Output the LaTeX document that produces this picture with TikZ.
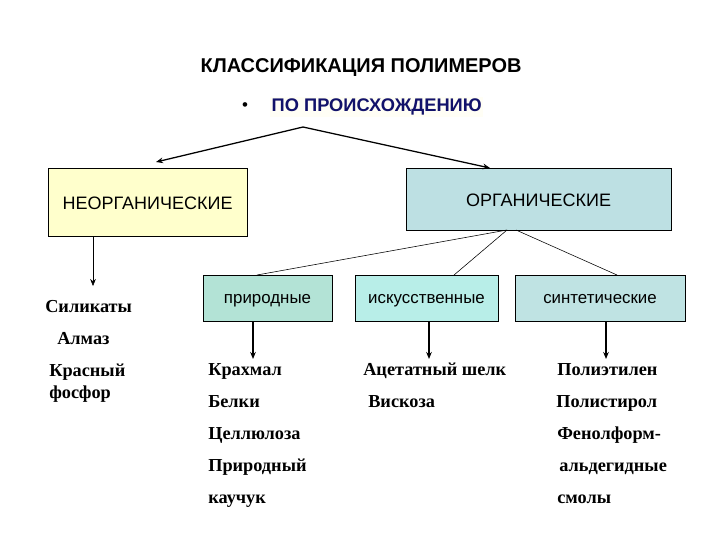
\documentclass[tikz,border=0pt]{standalone}
\usepackage{fontspec}
\setmainfont{Liberation Serif}
\newfontfamily\arialfont{Liberation Sans}
\usetikzlibrary{arrows.meta}
\definecolor{gelb}{HTML}{FFFFCC}
\definecolor{tuerkis}{HTML}{BDE0E3}
\definecolor{mint}{HTML}{B3E3D6}
\definecolor{aqua}{HTML}{B8EEE8}
\definecolor{blaugrau}{HTML}{BFE3E3}
\definecolor{dunkelblau}{HTML}{12126A}
\tikzset{
	kasten/.style={draw, thin, text height=10pt, text depth=2pt, font=\arialfont\fontsize{12}{14}\selectfont},
	grosskasten/.style={kasten, text height=11pt, text depth=0.5pt, font=\arialfont\fontsize{12.8}{15}\selectfont},
	liste/.style={anchor=west, inner sep=0pt, text height=1.6ex, text depth=.3ex,
		font=\bfseries\fontsize{13}{15}\selectfont},
	pfeil/.style={-{Stealth[length=5pt,width=4pt]}, line width=0.9pt},
}
\begin{document}
\begin{tikzpicture}[x=0.025cm,y=-0.025cm]
		\useasboundingbox (0,0) rectangle (720,540);
		% Titel
		\node (titel) at (361,68) {\arialfont\bfseries\fontsize{14.2}{16}\selectfont КЛАССИФИКАЦИЯ ПОЛИМЕРОВ};
		\node (punkt) at (245,107) {\arialfont\fontsize{12}{14}\selectfont •};
		\node[fill=yellow!4, inner sep=1pt, anchor=west, text=dunkelblau] (herkunft) at (270,107)
			{\arialfont\bfseries\fontsize{13}{15}\selectfont ПО ПРОИСХОЖДЕНИЮ};
		% Kaesten
		\node[grosskasten, fill=gelb, minimum width=4.975cm, minimum height=1.7cm] (anorg) at (147.5,202) {НЕОРГАНИЧЕСКИЕ};
		\node[grosskasten, fill=tuerkis, minimum width=6.625cm, minimum height=1.55cm] (org) at (538.5,199) {ОРГАНИЧЕСКИЕ};
		\node[kasten, fill=mint, minimum width=3.225cm, minimum height=1.15cm] (natur) at (267.5,298) {природные};
		\node[kasten, fill=aqua, minimum width=3.575cm, minimum height=1.15cm] (kunst) at (426.5,298) {искусственные};
		\node[kasten, fill=blaugrau, minimum width=4.25cm, minimum height=1.15cm] (synth) at (600,298) {синтетические};
		% Verzweigung
		\coordinate (spitze) at (303,127);
		\coordinate (anorgZiel) at (156,162);
		\coordinate (orgZiel) at (490,168);
		\draw[pfeil] (spitze) -- (anorgZiel);
		\draw[pfeil] (spitze) -- (orgZiel);
		\coordinate (orgA) at (507,230);
		\coordinate (orgB) at (516,230);
		\draw[thin] (orgA) -- (257,275);
		\draw[thin] (orgA) -- (454,275);
		\draw[thin] (orgB) -- (617,275);
		% Pfeile nach unten
		\coordinate (anorgEnde) at (93,286);
		\coordinate (naturEnde) at (253,359);
		\coordinate (kunstEnde) at (429,359);
		\coordinate (synthEnde) at (606,359);
		\draw[-{Stealth[length=5pt,width=4pt]}, thin] (anorgEnde |- anorg.south) -- (anorgEnde);
		\draw[pfeil] (naturEnde |- natur.south) -- (naturEnde);
		\draw[pfeil] (kunstEnde |- kunst.south) -- (kunstEnde);
		\draw[pfeil] (synthEnde |- synth.south) -- (synthEnde);
		% Listen
		\node[liste] (silikat) at (45,308) {Силикаты};
		\node[liste] (almas) at (57,340) {Алмаз};
		\node[liste] (rot) at (49,372) {Красный};
		\node[liste] (phosphor) at (49,394) {фосфор};
		\node[liste] (staerke) at (208,371) {Крахмал};
		\node[liste] (eiweiss) at (208,403) {Белки};
		\node[liste] (zellulose) at (208,435) {Целлюлоза};
		\node[liste] (natur1) at (208,467) {Природный};
		\node[liste] (natur2) at (208,499) {каучук};
		\node[liste] (acetat) at (363,371) {Ацетатный шелк};
		\node[liste] (viskose) at (368,403) {Вискоза};
		\node[liste] (pe) at (557,371) {Полиэтилен};
		\node[liste] (ps) at (556,403) {Полистирол};
		\node[liste] (phenol1) at (557,435) {Фенолформ-};
		\node[liste] (phenol2) at (559,467) {альдегидные};
		\node[liste] (phenol3) at (557,499) {смолы};
	\end{tikzpicture}
\end{document}
